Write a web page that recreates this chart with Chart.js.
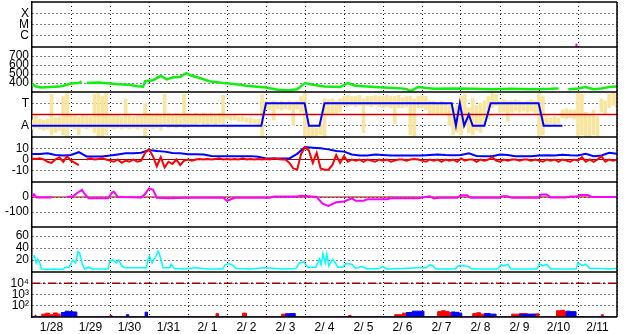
<!DOCTYPE html>
<html>
<head>
<meta charset="utf-8">
<script src="https://cdn.jsdelivr.net/npm/chart.js@4"></script>
<style>
  html, body { margin: 0; padding: 0; background: #fff; }
</style>
</head>
<body>
<canvas id="chart-1" width="628" height="334"></canvas>
<script>
// x axis: days since 1/28 00:00
const dayLabels = ["1/28", "1/29", "1/30", "1/31", "2/ 1", "2/ 2", "2/ 3", "2/ 4", "2/ 5", "2/ 6", "2/ 7", "2/ 8", "2/ 9", "2/10", "2/11"];
const dayTicks = [0, 1, 2, 3, 4, 5, 6, 7, 8, 9, 10, 11, 12, 13, 14, 15];

// panel tick values and labels
const eventTicks = [3, 2, 1];
const eventLabels = ["X", "M", "C"];
const priceTicks = [700, 600, 500, 400];
const modeTicks = [2, 1];
const modeLabels = ["T", "A"];
const devTicks = [10, 0, -10];
const lowTicks = [0, -100];
const rateTicks = [60, 40, 20];
const countTicks = [10000, 1000, 100];
const countLabels = ["10\u2074", "10\u00b3", "10\u00b2"];

// panel 1 (only one tiny mark)
const eventT = [13.96, 13.96];
const eventV = [0, 0.3];

// panel 2 green
const greenT = [0, 0.1, 0.25, 0.45, 0.7, 0.8, 1.0, 1.2, 1.27, 1.3, 1.4, 1.7, 2.0, 2.2, 2.5, 2.7, 2.85, 2.9, 3.1, 3.3, 3.45, 3.6, 3.8, 3.95, 4.1, 4.3, 4.55, 4.9, 5.2, 5.5, 5.85, 6.0, 6.3, 6.6, 6.8, 6.9, 7.0, 7.2, 7.5, 7.9, 8.1, 8.3, 8.6, 9.0, 9.3, 9.6, 9.7, 9.9, 10.3, 10.8, 11.3, 11.8, 12.3, 12.8, 13.3, 13.5, 13.6, 13.75, 14.0, 14.2, 14.4, 14.6, 14.8, 15];
const greenV = [390, 360, 350, 355, 360, 370, 395, 400, 420, null, 400, 405, 395, 385, 380, 365, 360, 420, 430, 480, 440, 460, 470, 510, 480, 455, 420, 400, 390, 370, 355, 350, 325, 320, 330, 365, 400, 380, 360, 355, 400, 370, 360, 350, 345, 335, 310, 355, 335, 340, 335, 330, 335, 330, 335, 340, null, 330, 340, 355, 330, 340, 355, 360];

// panel 3 yellow spread, low / high every 0.1 day
const yellowStep = 0.1;
const yellowLo = [
  0.85, 0.9, 0.85, 0.8, 0.85, 0.6, 0.7, 0.8, 0.6, 0.55,
  0.9, 0.85, 0.6, 0.9, 0.85, 0.9, 0.7, 0.5, 0.55, 0.6,
  0.9, 0.85, 0.9, 0.85, 0.9, 0.85, 0.9, 0.85, 0.9, 0.5,
  0.9, 0.85, 0.9, 0.8, 1.0, 0.9, 0.95, 0.9, 0.95, 0.9,
  1.0, 1.05, 1.0, 1.1, 1.0, 1.05, 1.1, 1.0, 1.1, 1.0,
  1.3, 1.25, 1.25, 1.2, 1.2, 1.15, 1.1, 1.1, 1.05, 0.5,
  1.75, 1.7, 1.25, 1.75, 1.7, 1.75, 1.7, 1.0, 1.75, 1.6,
  0.5, 0.5, 0.55, 0.5, 0.6, 0.5, 1.5, 1.5, 1.55, 1.6,
  1.9, 1.85, 1.9, 1.85, 1.9, 0.7, 1.9, 1.85, 1.9, 1.85,
  1.8, 1.85, 1.8, 1.1, 1.8, 1.8, 1.85, 0.6, 0.55, 1.8,
  1.8, 1.7, 1.5, 1.55, 1.5, 1.55, 1.5, 1.0, 0.6, 0.7,
  0.6, 1.0, 0.7, 0.6, 0.8, 0.7, 1.0, 1.3, 1.8, 1.9,
  1.6, 1.6, 1.2, 1.6, 1.65, 1.6, 1.65, 1.6, 1.65, 1.6,
  0.5, 0.6, 1.05, 1.1, 1.05, 1.1, 1.35, 1.3, 1.35, 1.3,
  0.5, 0.6, 0.5, 0.5, 0.6, 0.5, 1.6, 1.5, 1.8, 1.9,
  1.8
];
const yellowHi = [
  1.25, 1.5, 1.3, 1.25, 1.3, 2.4, 1.35, 1.4, 2.3, 2.45,
  1.45, 1.5, 1.4, 1.5, 1.45, 1.4, 2.4, 2.45, 2.3, 2.45,
  1.5, 1.45, 1.5, 1.4, 2.2, 1.45, 1.4, 1.5, 1.45, 2.0,
  1.55, 1.5, 1.55, 1.5, 2.4, 1.55, 1.5, 1.55, 1.5, 2.4,
  1.55, 1.5, 1.55, 1.5, 1.55, 1.5, 1.55, 1.5, 1.55, 2.35,
  1.5, 1.45, 1.45, 1.4, 1.4, 1.35, 1.35, 1.3, 1.3, 2.4,
  2.1, 2.05, 2.1, 2.05, 2.1, 2.05, 2.1, 2.05, 2.1, 2.3,
  2.45, 1.0, 0.95, 0.9, 1.1, 2.2, 2.15, 2.2, 2.1, 2.2,
  2.3, 2.35, 2.3, 2.3, 2.35, 2.2, 2.3, 2.3, 2.35, 2.3,
  2.3, 2.35, 2.3, 2.3, 2.35, 2.25, 2.3, 2.3, 2.2, 2.3,
  2.35, 2.3, 2.1, 2.1, 2.05, 2.1, 2.05, 1.9, 1.8, 1.9,
  2.3, 2.4, 1.8, 2.2, 1.9, 2.0, 2.1, 2.3, 2.45, 2.4,
  2.1, 2.15, 2.1, 2.1, 2.15, 2.1, 2.05, 2.1, 2.15, 2.1,
  2.45, 2.3, 1.4, 1.35, 1.4, 1.35, 1.7, 1.75, 1.7, 1.7,
  2.45, 2.4, 1.6, 1.5, 1.7, 1.4, 2.2, 2.1, 2.4, 2.45,
  2.4
];

// panel 3 blue mode line
const modeT = [0, 5.88, 6.0, 6.99, 7.1, 7.37, 7.5, 10.76, 10.87, 10.97, 11.08, 11.2, 11.3, 11.6, 11.76, 12.99, 13.12, 13.6];
const modeV = [1, 1, 2, 2, 1, 1, 2, 2, 1, 2, 1, 1.5, 1, 1, 2, 2, 1, 1];
const modeRefV = 1.5;

// panel 4 blue, every 0.2 day
const devBlueStep = 0.2;
const devBlueV = [
  5, 5, 5.5, 4, 3.6, 4, 6.5, 2.7, 2.7, 2.7,
  3.5, 4.5, 5.5, 5.5, 6, 8.5, 7.5, 7, 5.8, 5.5,
  4.6, 4.6, 4.5, 3.2, 3, 3, 3, 3, 3, 2.5,
  1, 1, 1, 1, 5, 11, 10.5, 10, 9, 7.5,
  7, 4.5, 3.6, 3.6, 4.5, 4, 3.6, 3.6, 3.6, 3.6,
  3.6, 4, 4.5, 4, 3.8, 4, 5.5, 3.2, 3, 3,
  4.5, 4, 3, 3, 3, 3.6, 3.8, 3.6, 4.2, 3.8,
  3.6, 5, 3, 3.5, 6, 5
];

// panel 4 red, every 0.1 day
const devRedStep = 0.1;
const devRedV = [
  1, 0.5, 1, 0, -2, -3, 0, 2, -2, 3,
  -1, -3, -5, null, 0, 1, 0, 0.5, 1, 0,
  -1, -2, 0, -3, -1, -2, 0, -2, -1, 6,
  9, 3, -6, 2, -7, -2, -4, 0, -5, -1,
  0, -1, 0, 0.5, 0, 0.5, 0, 0.5, 1, 0,
  0.5, 0, 0.5, 0, 1, 0, 0.5, 0, 0.5, 0,
  0.5, 0, 1, 0.5, 0, 0, -3, -8, -9, 5,
  11, 8, -3, 6, -8, -9, -9, -5, 4, -3,
  3, -2, 0, -1, 0, -2, 0, -1, -2, 0,
  -1, 0, -2, -1, 0, 0, -1, 0, 0.5, 0,
  -1, -2, 0, -1, 0, -2, 0, -1, 0, -2,
  1, -1, 0, 0, -2, 0, -1, 0, 2, -1,
  -2, 0, -1, 0, 0, -1, 0, 0, -1, 0,
  -1, -2, 0, -1, 0, -2, 0, -1, -2, 0,
  -1, 2, -2, 0, -2, 0, 3, -2, 0, -1,
  0
];

// panel 5 magenta
const lowT = [0, 0.05, 0.12, 0.5, 0.7, 0.9, 1.05, 1.15, 1.28, 1.35, 1.45, 1.95, 2.05, 2.1, 2.2, 2.8, 2.9, 3.0, 3.1, 3.2, 3.5, 4.0, 4.5, 4.9, 5.0, 5.2, 6.1, 6.2, 6.8, 6.9, 7.1, 7.3, 7.45, 7.6, 7.8, 8.0, 8.2, 8.3, 8.5, 8.6, 9.1, 9.2, 9.9, 10.2, 10.3, 10.45, 10.9, 11.0, 11.15, 11.25, 12.0, 12.05, 12.2, 12.3, 13.0, 13.05, 13.2, 13.3, 13.7, 13.8, 14.0, 14.05, 14.25, 14.35, 14.8, 15];
const lowV = [5, 18, -4, -4, null, 0, 5, 25, 47, 20, -8, -8, 30, 35, 0, -3, 20, 58, 50, -5, -8, -5, -5, -5, -25, -5, -5, 4, 4, 9, 5, 0, -45, -60, -35, -30, -9, -25, -25, -15, -15, -8, -8, 5, -10, -5, -5, 12, 12, -5, -5, 5, 5, -5, -5, 16, 16, -4, -4, 4, 4, 14, 14, 0, 0, 0];

// panel 6 cyan
const rateT = [0, 0.06, 0.11, 0.15, 0.19, 0.24, 0.4, 0.55, 0.7, 0.8, 0.85, 0.95, 1.05, 1.12, 1.18, 1.22, 1.29, 1.35, 1.45, 1.55, 1.75, 1.95, 1.99, 2.07, 2.16, 2.23, 2.29, 2.37, 2.6, 2.93, 2.97, 3.01, 3.08, 3.18, 3.23, 3.27, 3.36, 3.53, 3.57, 3.65, 3.9, 4.2, 4.5, 4.89, 4.95, 5.05, 5.15, 5.23, 5.6, 6.0, 6.4, 6.77, 6.85, 6.97, 7.07, 7.28, 7.37, 7.41, 7.46, 7.52, 7.56, 7.61, 7.71, 7.78, 7.84, 7.97, 8.05, 8.2, 8.3, 8.45, 8.6, 8.9, 9.0, 9.1, 9.5, 9.9, 10.1, 10.2, 10.27, 10.35, 10.85, 10.92, 11.05, 11.2, 11.28, 11.95, 12.03, 12.1, 12.2, 12.28, 12.95, 13.01, 13.1, 13.2, 13.3, 13.95, 14.0, 14.1, 14.2, 14.3, 14.6, 14.8, 15];
const rateV = [25, 27, 15, 21, 17, 5, 4, 5, 4, 5, 8, 8, 20, 15, 34, 32, 13, 5, 8, 5, 5, 5, 17, 20, 15, 20, 11, 7, 7, 7, 20, 27, 15, 27, 35, 30, 7, 7, 13, 6, 5, 7, 5, 5, 12, 14, 11, 6, 5, 7, 5, 6, 15, 17, 8, 8, 22, 12, 31, 15, 30, 10, 21, 15, 8, 8, 14, 13, 6, 9, 5, 6, 9, 5, 6, 7, 7, 12, 11, 5, 5, 10, 11, 9, 5, 5, 12, 10, 13, 5, 5, 14, 10, 13, 5, 5, 15, 11, 13, 6, 6, 5, 6];

// panel 7 counts (log), red and blue
const countRedT = [0, 0.08, 0.1, 0.25, 0.35, 0.45, 0.55, 0.65, 0.72, 2.0, 2.05, 4.72, 4.78, 5.4, 5.5, 6.4, 6.5, 6.6, 6.7, 8.12, 8.18, 9.3, 9.5, 9.7, 10.4, 10.5, 10.6, 10.7, 10.78, 11.3, 11.4, 11.5, 11.62, 12.3, 12.5, 12.7, 12.9, 13.0, 13.45, 13.55, 13.65, 13.72, 14.6, 14.65, 15];
const countRedV = [10, 15, 10, 18, 22, 16, 23, 18, 10, 14, 10, 20, 10, 22, 10, 18, 20, 16, 10, 14, 10, 16, 22, 10, 30, 36, 30, 24, 10, 20, 24, 18, 10, 18, 20, 17, 19, 10, 36, 40, 30, 10, 16, 10, 10];
const countBlueT = [0, 0.75, 0.85, 0.95, 1.05, 1.15, 2.42, 2.48, 2.9, 2.96, 6.5, 6.6, 6.75, 9.6, 9.75, 9.9, 10.05, 10.75, 10.85, 10.95, 11.02, 11.6, 11.75, 11.9, 12.5, 12.7, 12.9, 13.7, 13.8, 13.95, 15];
const countBlueV = [10, 25, 33, 30, 28, 10, 16, 10, 27, 10, 18, 20, 10, 25, 33, 33, 10, 28, 26, 22, 10, 20, 18, 10, 17, 18, 10, 33, 30, 10, 10];
const countLimit = 10000;

const font = { family: "'Liberation Sans', Arial, sans-serif", size: 12 };

function pts(ts, vs) {
  return ts.map((t, i) => ({ x: t, y: vs[i] }));
}
function sampled(step, vs) {
  return vs.map((v, i) => ({ x: Math.round(i * step * 1000) / 1000, y: v }));
}
function ranges(step, lo, hi) {
  return lo.map((v, i) => ({ x: Math.round(i * step * 1000) / 1000, y: [v, hi[i]] }));
}
function flat(v) {
  return [{ x: 0, y: v }, { x: 15, y: v }];
}

function panelAxis(weight, min, max, ticks, labels, type) {
  return {
    type: type || "linear",
    position: "left",
    stack: "panels",
    stackWeight: 1,
    weight: weight,
    offset: false,
    min: min,
    max: max,
    afterBuildTicks: (s) => {
      s.ticks = ticks.map((v) => ({ value: v }));
    },
    afterFit: (s) => {
      s.width = 32;
      s.paddingTop = 0;
      s.paddingBottom = 0;
    },
    ticks: {
      autoSkip: false,
      padding: 3,
      color: "#000",
      font: font,
      callback: (v, i) => (labels ? labels[i] : String(ticks[i])),
    },
    grid: { color: "#000", lineWidth: 1, drawTicks: false },
    border: { display: true, color: "#000", width: 1.5, dash: [1, 3] },
  };
}

const panelIds = ["yEvent", "yPrice", "yMode", "yDev", "yLow", "yRate", "yCount"];

// solid frame and separators between the panels
const panelLines = {
  id: "panelLines",
  afterDatasetsDraw(chart) {
    const { ctx, chartArea: a } = chart;
    ctx.save();
    ctx.strokeStyle = "#000";
    ctx.lineWidth = 1.5;
    ctx.beginPath();
    panelIds.forEach((id) => {
      const s = chart.scales[id];
      ctx.moveTo(a.left, s.bottom);
      ctx.lineTo(a.right, s.bottom);
    });
    ctx.moveTo(a.left, a.top);
    ctx.lineTo(a.right, a.top);
    ctx.moveTo(a.right, a.top);
    ctx.lineTo(a.right, a.bottom);
    ctx.stroke();
    ctx.restore();
  },
};

const ctx = document.getElementById("chart-1").getContext("2d");
const myChart = new Chart(ctx, {
  type: "line",
  data: {
    datasets: [
      { data: pts(eventT, eventV), yAxisID: "yEvent", borderColor: "#ff00ff", borderWidth: 2 },
      { data: pts(greenT, greenV), yAxisID: "yPrice", borderColor: "#11ee11", borderWidth: 2.5 },
      { type: "bar", data: ranges(yellowStep, yellowLo, yellowHi), yAxisID: "yMode", backgroundColor: "#f8e6a0", barThickness: 3, grouped: false, order: 10 },
      { data: flat(modeRefV), yAxisID: "yMode", borderColor: "#cc0000", borderWidth: 1.5, order: 2 },
      { data: pts(modeT, modeV), yAxisID: "yMode", borderColor: "#0000ff", borderWidth: 2, order: 1 },
      { data: flat(0), yAxisID: "yDev", borderColor: "#990000", borderWidth: 1, order: 5 },
      { data: sampled(devBlueStep, devBlueV), yAxisID: "yDev", borderColor: "#0000ff", borderWidth: 2, order: 4 },
      { data: sampled(devRedStep, devRedV), yAxisID: "yDev", borderColor: "#ff0000", borderWidth: 2, order: 3 },
      { data: flat(0), yAxisID: "yLow", borderColor: "#990000", borderWidth: 1, order: 5 },
      { data: pts(lowT, lowV), yAxisID: "yLow", borderColor: "#ff00ff", borderWidth: 2, order: 3 },
      { data: pts(rateT, rateV), yAxisID: "yRate", borderColor: "#00ffff", borderWidth: 1.5 },
      { data: flat(countLimit), yAxisID: "yCount", borderColor: "#990000", borderWidth: 1.5, borderDash: [8, 3, 2, 3] },
      { data: pts(countRedT, countRedV), yAxisID: "yCount", borderColor: "#ff0000", backgroundColor: "#ff0000", borderWidth: 1, stepped: true, fill: "start", order: 4 },
      { data: pts(countBlueT, countBlueV), yAxisID: "yCount", borderColor: "#0000ff", backgroundColor: "#0000ff", borderWidth: 1, stepped: true, fill: "start", order: 3 },
    ],
  },
  options: {
    responsive: false,
    animation: false,
    events: [],
    devicePixelRatio: 1,
    layout: { padding: { top: 2, right: 11, left: 0, bottom: 0 } },
    elements: { point: { radius: 0 }, line: { tension: 0 } },
    plugins: { legend: { display: false }, tooltip: { enabled: false } },
    scales: {
      x: {
        type: "linear",
        position: "bottom",
        offset: false,
        min: 0,
        max: 15,
        afterBuildTicks: (s) => {
          s.ticks = dayTicks.map((v) => ({ value: v }));
        },
        afterFit: (s) => {
          s.height = 17;
          s.paddingLeft = 0;
          s.paddingRight = 0;
        },
        ticks: {
          autoSkip: false,
          maxRotation: 0,
          labelOffset: 19.5,
          padding: 3,
          color: "#000",
          font: font,
          callback: (v, i) => dayLabels[i] || "",
        },
        grid: { color: "#000", lineWidth: 1, drawTicks: false, offset: false },
        border: { display: false, dash: [1, 3] },
      },
      yEvent: panelAxis(7, 0, 4, eventTicks, eventLabels),
      yPrice: panelAxis(6, 300, 800, priceTicks, null),
      yMode: panelAxis(5, 0.5, 2.5, modeTicks, modeLabels),
      yDev: panelAxis(4, -20, 20, devTicks, null),
      yLow: panelAxis(3, -200, 100, lowTicks, null),
      yRate: panelAxis(2, 0, 75, rateTicks, null),
      yCount: panelAxis(1, 10, 100000, countTicks, countLabels, "logarithmic"),
    },
  },
  plugins: [panelLines],
});
</script>
</body>
</html>
